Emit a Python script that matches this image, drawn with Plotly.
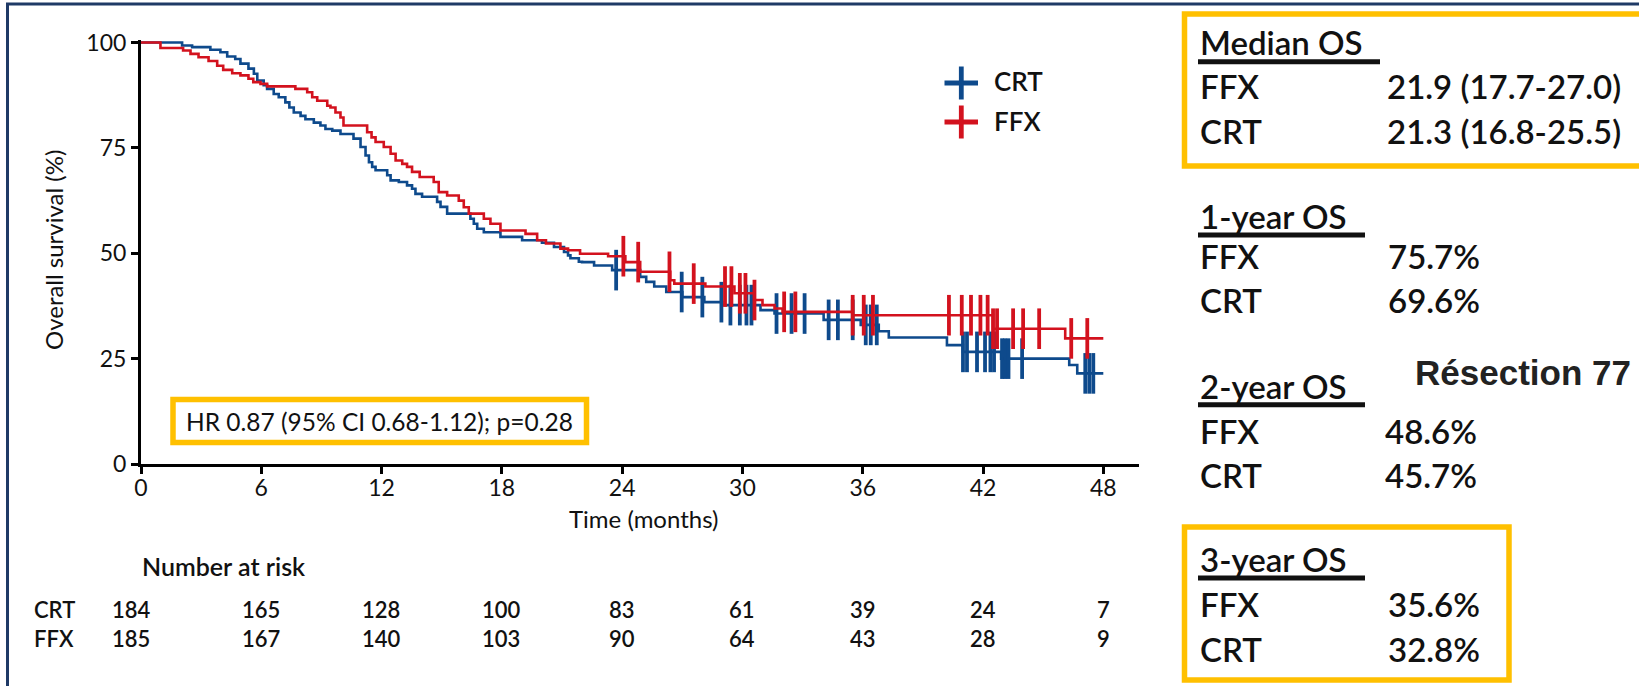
import plotly.graph_objects as go

# ---------------- data ----------------
months = [0, 6, 12, 18, 24, 30, 36, 42, 48]
risk_crt = [184, 165, 128, 100, 83, 61, 39, 24, 7]
risk_ffx = [185, 167, 140, 103, 90, 64, 43, 28, 9]

# FFX (red) Kaplan-Meier steps: time (months) -> survival (%) after the step
ffx_t = [0, 0.97, 2.1, 2.47, 2.87, 3.37, 3.8, 4.1, 4.55, 4.96, 5.36, 5.6, 5.96, 6.29,
         7.7, 8.29, 8.54, 8.79, 9.29, 9.45, 9.7, 9.95, 10.1, 11.28, 11.5, 11.7, 12.11,
         12.45, 12.7, 13.03, 13.27, 13.52, 13.9, 14.6, 14.85, 15.27, 15.85, 16.1, 16.35,
         17.1, 17.43, 17.93, 19.18, 19.76, 20.2, 20.92, 21.3, 21.9, 23.3, 24.16, 24.9,
         26.4, 26.6, 28.15, 29.6, 30.6, 31.0, 31.6, 32.0, 35.5, 42.5, 46.1, 48.0]
ffx_s = [100, 98.7, 98.1, 97.3, 96.5, 95.6, 94.5, 93.5, 92.7, 92.2, 91.4, 90.6, 90.2, 89.6,
         89.0, 88.2, 87.0, 86.2, 85.0, 84.6, 83.4, 82.2, 80.3, 78.7, 77.5, 76.4, 75.2,
         73.6, 72.0, 71.2, 70.5, 69.3, 68.1, 66.9, 64.5, 63.7, 62.5, 60.9, 59.4,
         58.2, 57.0, 55.4, 54.6, 53.1, 52.3, 51.1, 50.7, 49.9, 49.3, 47.9, 45.6,
         43.6, 42.8, 42.1, 40.5, 38.9, 37.7, 36.9, 36.1, 35.3, 32.1, 29.8, 29.8]

# CRT (blue)
crt_t = [0, 2.05, 2.55, 3.46, 3.96, 4.3, 4.7, 4.96, 5.36, 5.63, 5.8, 6.12, 6.29, 6.62,
         6.87, 7.2, 7.4, 7.62, 7.96, 8.2, 8.62, 8.95, 9.2, 9.54, 9.95, 10.6, 10.95, 11.2,
         11.37, 11.53, 11.7, 12.28, 12.45, 12.86, 13.27, 13.52, 13.69, 14.02, 14.77,
         14.94, 15.27, 16.43, 16.6, 16.77, 17.1, 17.93, 19.01, 20.0, 20.6, 21.1, 21.3,
         21.42, 21.84, 22.0, 22.6, 23.5, 24.9, 25.2, 25.6, 26.2, 27.0, 28.1, 29.0, 30.9,
         31.6, 34.05, 35.9, 36.8, 37.3, 40.2, 41.0, 42.9, 46.3, 46.7, 48.0]
crt_s = [100, 99.3, 98.9, 98.3, 97.7, 96.7, 96.1, 95.0, 93.8, 92.6, 91.0, 89.9, 89.0, 87.8,
         87.0, 85.8, 84.6, 83.4, 82.6, 81.8, 81.0, 80.3, 79.5, 79.1, 78.3, 77.2, 75.2, 73.2,
         71.6, 70.5, 69.7, 68.5, 67.3, 66.9, 66.1, 65.3, 64.1, 63.4, 62.2,
         61.0, 59.4, 58.2, 57.0, 55.8, 55.0, 53.9, 53.1, 52.5, 51.5, 50.3, 49.5,
         48.8, 48.0, 47.9, 47.1, 46.0, 44.4, 43.2, 42.1, 40.8, 39.6, 38.4, 37.7, 36.5,
         35.7, 34.2, 33.0, 31.5, 30.0, 28.2, 26.6, 25.0, 23.5, 21.5, 21.5]

ffx_cens = [24.06, 24.8, 26.36, 27.57, 29.13, 29.45, 29.87, 30.15, 30.6, 32.08, 32.64,
            35.5, 36.05, 36.51, 40.3, 40.94, 41.4, 41.87, 42.23, 42.5, 42.7, 43.5, 44.0,
            44.8, 46.4, 47.2]
crt_cens = [23.7, 26.97, 28.0, 28.95, 29.4, 29.87, 30.2, 30.45, 31.7, 32.45, 33.1, 34.3,
            34.76, 35.5, 36.15, 36.4, 36.7, 41.0, 41.2, 41.7, 42.1, 42.37, 42.55, 42.95,
            43.1, 43.27, 43.95, 47.1, 47.3, 47.5]

groups = ["CRT", "FFX"]
hr_text = "HR 0.87 (95% CI 0.68-1.12); p=0.28"

summary_titles = ["Median OS", "1-year OS", "2-year OS", "3-year OS"]
summary_ffx = ["21.9 (17.7-27.0)", "75.7%", "48.6%", "35.6%"]
summary_crt = ["21.3 (16.8-25.5)", "69.6%", "45.7%", "32.8%"]
side_label = "Résection 77"

# ---------------- style ----------------
BLUE = "#0E4A8C"
RED = "#D3121E"
GOLD = "#FFC000"
NAVY = "#1F3A66"
INK = "#111111"
FONT = "Lato, 'Open Sans', sans-serif"

W, H = 1639, 686
L, R, T, B = 141, 1139, 40, 464
XMAX = 49.78
YMAX = 100.6


def px(x):
    return (x - L) / (R - L)


def py(y):
    return (B - y) / (B - T)


def xm(m):
    return m / XMAX


def step_value(ts, ss, t):
    v = ss[0]
    for ti, si in zip(ts, ss):
        if ti <= t:
            v = si
    return v


fig = go.Figure()

for name, ts, ss, cens, col in [("CRT", crt_t, crt_s, crt_cens, BLUE),
                                ("FFX", ffx_t, ffx_s, ffx_cens, RED)]:
    fig.add_trace(go.Scatter(x=ts, y=ss, mode="lines", line=dict(color=col, width=2.6, shape="hv"),
                             name=name, showlegend=False, hoverinfo="skip"))
    fig.add_trace(go.Scatter(x=cens, y=[step_value(ts, ss, c) for c in cens], mode="markers",
                             marker=dict(symbol="line-ns", size=29, line=dict(color=col, width=3.8)),
                             showlegend=False, hoverinfo="skip", cliponaxis=False))

shapes = []
annotations = []


def text(x, y, s, size, anchor="left", color=INK, family=FONT, xref="paper", weight=400, angle=0):
    annotations.append(dict(x=x, y=y, xref=xref, yref="paper", text=s,
                            showarrow=False, xanchor=anchor, yanchor="middle", textangle=angle,
                            align=anchor if anchor != "center" else "center",
                            font=dict(family=family, size=size, color=color, weight=weight)))


# frame
shapes.append(dict(type="line", xref="paper", yref="paper", x0=px(6), x1=px(1645), y0=py(4), y1=py(4),
                   line=dict(color=NAVY, width=3)))
shapes.append(dict(type="line", xref="paper", yref="paper", x0=px(7.5), x1=px(7.5), y0=py(3), y1=py(690),
                   line=dict(color=NAVY, width=3)))

# legend (custom plus signs)
for name, col, cy in [("CRT", BLUE, 83), ("FFX", RED, 122)]:
    shapes.append(dict(type="line", xref="paper", yref="paper", x0=px(944.5), x1=px(978), y0=py(cy), y1=py(cy),
                       line=dict(color=col, width=4.8)))
    shapes.append(dict(type="line", xref="paper", yref="paper", x0=px(961.3), x1=px(961.3), y0=py(cy - 16.5),
                       y1=py(cy + 16.5), line=dict(color=col, width=4.8)))
    text(px(992), py(cy - 1.5), name, 26, weight=600)

# HR box
shapes.append(dict(type="rect", xref="paper", yref="paper", x0=px(173), x1=px(586.5), y0=py(399.5),
                   y1=py(442.5), line=dict(color=GOLD, width=5.5), fillcolor="rgba(0,0,0,0)"))
text(px(379.5), py(421), hr_text, 24.5, anchor="center")

# axis titles
text(px(54), py(250), "Overall survival (%)", 24, anchor="center", angle=-90)
text(px(643), py(518), "Time (months)", 24, anchor="center")

# number at risk
text(px(140), py(566), "Number at risk", 25, weight=600)
text(px(32), py(624), "<br>".join(groups), 22, weight=600)
for i, (m, a, b) in enumerate(zip(months, risk_crt, risk_ffx)):
    mpos = m if i > 0 else -0.45
    text(xm(mpos), py(624), "%d<br>%d" % (a, b), 22, anchor="center", weight=600)

# right panel
title_y = [42, 216, 386, 558.5]
ffx_y = [86, 256, 430.5, 603.5]
crt_y = [131, 300, 475.5, 648.5]
val_x = [1385, 1386, 1383, 1386]
ul_y = [61.7, 235, 404.7, 578]
ul_x1 = [1380, 1365, 1365, 1365]
PANEL = 33
for i in range(4):
    text(px(1198), py(title_y[i]), summary_titles[i], PANEL, weight=600)
    shapes.append(dict(type="line", xref="paper", yref="paper", x0=px(1198), x1=px(ul_x1[i]),
                       y0=py(ul_y[i]), y1=py(ul_y[i]), line=dict(color=INK, width=5)))
    text(px(1198), py(ffx_y[i]), "FFX", PANEL, weight=600)
    text(px(1198), py(crt_y[i]), "CRT", PANEL, weight=600)
    text(px(val_x[i]), py(ffx_y[i]), summary_ffx[i], PANEL, weight=600)
    text(px(val_x[i]), py(crt_y[i]), summary_crt[i], PANEL, weight=600)

shapes.append(dict(type="rect", xref="paper", yref="paper", x0=px(1184.5), x1=px(1660), y0=py(14),
                   y1=py(166), line=dict(color=GOLD, width=5.5), fillcolor="rgba(0,0,0,0)"))
shapes.append(dict(type="rect", xref="paper", yref="paper", x0=px(1184.5), x1=px(1509), y0=py(527),
                   y1=py(680), line=dict(color=GOLD, width=5.5), fillcolor="rgba(0,0,0,0)"))

text(px(1413), py(372), side_label, 35, color="#222222", family="'Liberation Sans', Arial, sans-serif",
     weight=700)

axis_common = dict(showgrid=False, zeroline=False, showline=True, linecolor="black", linewidth=3,
                   ticks="outside", ticklen=7, tickwidth=2.5, tickcolor="black",
                   tickfont=dict(family=FONT, size=23, color=INK))

fig.update_layout(
    width=W, height=H,
    margin=dict(l=L, r=W - R, t=T, b=H - B, autoexpand=False),
    paper_bgcolor="white", plot_bgcolor="white",
    showlegend=False,
    xaxis=dict(range=[0, XMAX], tickmode="array", tickvals=months, ticktext=[str(m) for m in months],
               ticklabelstandoff=-6, **axis_common),
    yaxis=dict(range=[0, YMAX], tickmode="array", tickvals=[0, 25, 50, 75, 100],
               ticktext=["0", "25", "50", "75", "100"], **axis_common),
    shapes=shapes,
    annotations=annotations,
)

fig.write_html("out.html")
